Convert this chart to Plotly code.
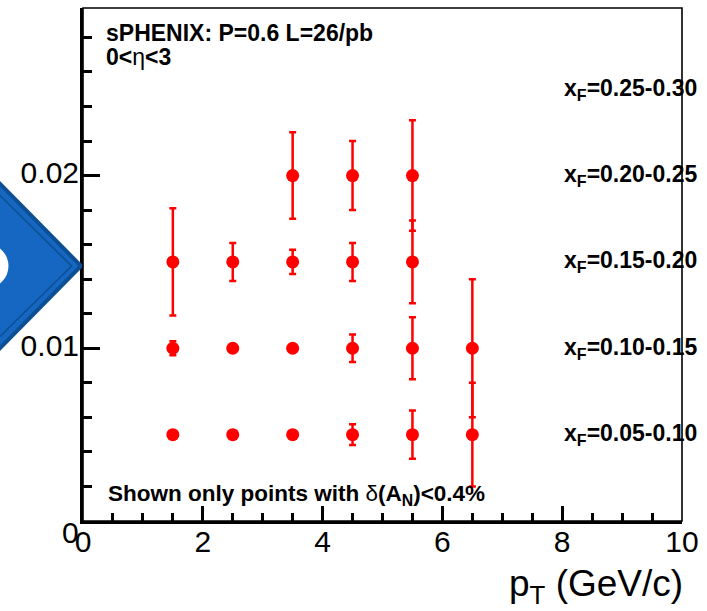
import plotly.graph_objects as go

# ---------------- data ----------------
xf_bins = ["0.05-0.10", "0.10-0.15", "0.15-0.20", "0.20-0.25", "0.25-0.30"]
xf_level = [0.005, 0.010, 0.015, 0.020, 0.025]

pt_a = [1.5, 2.5, 3.5, 4.5, 5.5, 6.5]
an_a = [0.005, 0.005, 0.005, 0.005, 0.005, 0.005]
err_a = [0.0002, 0.0002, 0.0002, 0.0006, 0.0014, 0.0030]

pt_b = [1.5, 2.5, 3.5, 4.5, 5.5, 6.5]
an_b = [0.010, 0.010, 0.010, 0.010, 0.010, 0.010]
err_b = [0.0004, 0.0002, 0.0002, 0.0008, 0.0018, 0.0040]

pt_c = [1.5, 2.5, 3.5, 4.5, 5.5]
an_c = [0.015, 0.015, 0.015, 0.015, 0.015]
err_c = [0.0031, 0.0011, 0.0007, 0.0011, 0.0024]

pt_d = [3.5, 4.5, 5.5]
an_d = [0.020, 0.020, 0.020]
err_d = [0.0025, 0.0020, 0.0032]

x_ticks = [0, 2, 4, 6, 8, 10]
y_ticks = [0.01, 0.02]
y_ticktext = ["0.01", "0.02"]

# ---------------- figure ----------------
W, H = 707, 611
L, R, T, B = 83, 21, 8, 90
FONT = "Liberation Sans, Arial, Helvetica, sans-serif"
RED = "#ff0000"


def px(xp):
    return (xp - L) / (W - L - R)


def py(yp):
    return (H - B - yp) / (H - B - T)


fig = go.Figure()
for xs, ys, es in [(pt_a, an_a, err_a), (pt_b, an_b, err_b),
                   (pt_c, an_c, err_c), (pt_d, an_d, err_d)]:
    fig.add_trace(go.Scatter(
        x=xs, y=ys, mode="markers",
        marker=dict(color=RED, size=13, symbol="circle"),
        error_y=dict(type="data", array=es, visible=True, color=RED,
                     thickness=2.5, width=3.5),
        showlegend=False, hoverinfo="skip"))

annotations = []
for lab, lev in zip(xf_bins, xf_level):
    annotations.append(dict(
        x=8.0, y=lev, xref="x", yref="y", xanchor="left", yanchor="middle",
        text="<b>x<sub>F</sub>=" + lab + "</b>", showarrow=False,
        font=dict(family=FONT, size=23, color="black")))

annotations += [
    dict(x=px(104), y=py(33), xref="paper", yref="paper", xanchor="left",
         yanchor="middle", showarrow=False,
         text="<b>sPHENIX: P=0.6 L=26/pb</b>",
         font=dict(family=FONT, size=23, color="black")),
    dict(x=px(104), y=py(57), xref="paper", yref="paper", xanchor="left",
         yanchor="middle", showarrow=False,
         text="<b>0&lt;</b>η<b>&lt;3</b>",
         font=dict(family=FONT, size=23, color="black")),
    dict(x=px(106), y=py(495), xref="paper", yref="paper", xanchor="left",
         yanchor="middle", showarrow=False,
         text="<b>Shown only points with </b>δ<b>(A<sub>N</sub>)&lt;0.4%</b>",
         font=dict(family=FONT, size=22.5, color="black")),
    dict(x=px(689), y=py(586), xref="paper", yref="paper", xanchor="right",
         yanchor="middle", showarrow=False,
         text="p<sub>T</sub> (GeV/c)",
         font=dict(family=FONT, size=37, color="black")),
    dict(x=px(81), y=py(532), xref="paper", yref="paper", xanchor="right",
         yanchor="middle", showarrow=False, text="0",
         font=dict(family=FONT, size=30, color="black")),
]

# decorative blue arrow (slide overlay) on the left
outer = [(-12, 174.3 - 2), (81, 266), (-12, 357.7 + 2)]
inner = [(-12, 184.3), (71.5, 266), (-12, 347.7)]


def path(pts):
    s = "M %f,%f " % (px(pts[0][0]), py(pts[0][1]))
    for a, b in pts[1:]:
        s += "L %f,%f " % (px(a), py(b))
    return s + "Z"


shapes = [
    dict(type="path", xref="paper", yref="paper", path=path(outer),
         fillcolor="#1667c2", line=dict(color="#0c4f93", width=4), layer="above"),
    dict(type="path", xref="paper", yref="paper", path=path(inner),
         fillcolor="rgba(0,0,0,0)", line=dict(color="#0c4f93", width=1.6), layer="above"),
    dict(type="circle", xref="paper", yref="paper",
         x0=px(-36), x1=px(8), y0=py(244), y1=py(288),
         fillcolor="white", line=dict(width=0), layer="above"),
    dict(type="rect", xref="paper", yref="paper", x0=0, x1=1, y0=0, y1=1,
         line=dict(color="black", width=1.6), layer="above"),
]

fig.update_layout(
    width=W, height=H, margin=dict(l=L, r=R, t=T, b=B),
    paper_bgcolor="white", plot_bgcolor="white",
    showlegend=False, annotations=annotations, shapes=shapes,
    font=dict(family=FONT, color="black"),
    xaxis=dict(range=[0, 10], tickvals=x_ticks, ticks="inside", ticklen=15,
               tickwidth=2.5, tickcolor="black", showline=True, linewidth=3,
               linecolor="black", showgrid=False, zeroline=False,
               ticklabelstandoff=-8,
               tickfont=dict(family=FONT, size=30, color="black"),
               minor=dict(dtick=0.5, ticks="inside", ticklen=8, tickwidth=2.5,
                          tickcolor="black", showgrid=False)),
    yaxis=dict(range=[0, 0.0297], tickvals=y_ticks, ticktext=y_ticktext,
               ticks="inside", ticklen=17, tickwidth=2.5, tickcolor="black",
               showline=True, linewidth=3, linecolor="black", showgrid=False,
               zeroline=False, ticklabelstandoff=-5, ticklabelshift=-3,
               tickfont=dict(family=FONT, size=30, color="black"),
               minor=dict(dtick=0.002, tick0=0, ticks="inside", ticklen=9,
                          tickwidth=2.5, tickcolor="black", showgrid=False)),
)

fig.write_html("out.html")
